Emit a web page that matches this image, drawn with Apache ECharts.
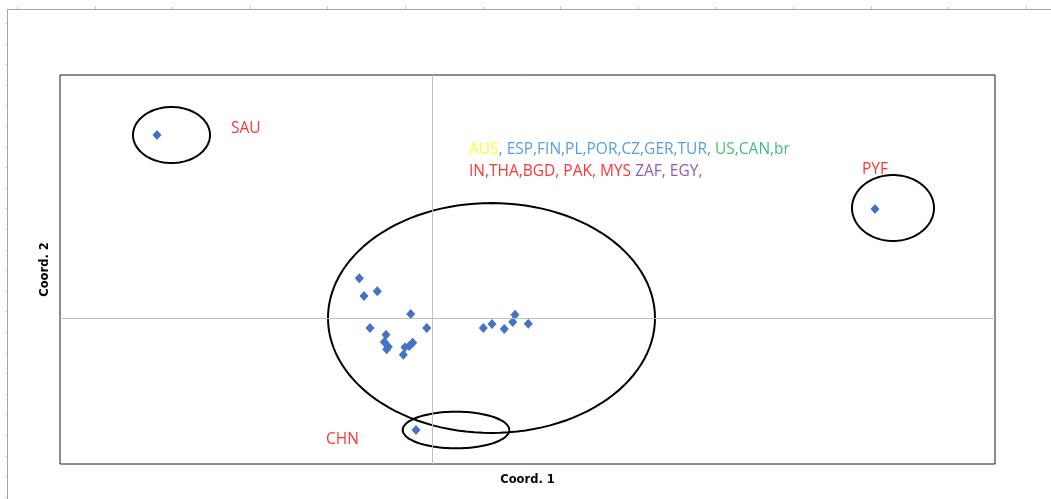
<!DOCTYPE html>
<html>
<head>
<meta charset="utf-8">
<script src="https://cdn.jsdelivr.net/npm/echarts@6/dist/echarts.min.js"></script>
<style>
html,body{margin:0;padding:0;background:#fff;}
#chart{width:1051px;height:499px;}
</style>
</head>
<body>
<div id="chart"></div>
<script>
// ---- data ----
const xAxisName = 'Coord. 1';
const yAxisName = 'Coord. 2';
const xRange = [-3.72, 5.63];
const yRange = [-1.46, 2.43];

// country points [coord1, coord2]
const outlierSAU = [[-2.75, 1.83]];
const outlierPYF = [[4.43, 1.09]];
const outlierCHN = [[-0.16, -1.12]];
const clusterPoints = [
  [-0.727, 0.397], [-0.68, 0.22], [-0.547, 0.267], [-0.213, 0.04],
  [-0.62, -0.10], [-0.053, -0.10], [-0.46, -0.167], [-0.477, -0.24],
  [-0.437, -0.287], [-0.453, -0.313], [-0.27, -0.293], [-0.193, -0.247],
  [-0.227, -0.28], [-0.287, -0.367],
  [0.513, -0.10], [0.60, -0.06], [0.723, -0.11], [0.807, -0.04],
  [0.83, 0.033], [0.963, -0.057]
];

// group ellipses [centerX, centerY, radiusX, radiusY]
const ellipses = [
  [-2.605, 1.83, 0.385, 0.28],
  [4.61, 1.10, 0.41, 0.33],
  [0.595, 0.0, 1.635, 1.15],
  [0.24, -1.12, 0.533, 0.183]
];

// text annotations [x, y, label key]
const annotations = [
  [-2.01, 1.89, 'SAU'],
  [4.30, 1.48, 'PYF'],
  [-1.06, -1.22, 'CHN'],
  [0.37, 1.68, 'line1'],
  [0.37, 1.46, 'line2']
];

const annotationText = {
  SAU: '{r|SAU}',
  PYF: '{r|PYF}',
  CHN: '{r|CHN}',
  line1: '{y|AUS}{b|, ESP,FIN,PL,POR,CZ,GER,TUR, }{g|US,}{t|CAN,br}',
  line2: '{r|IN,THA,BGD, PAK, MYS }{p|ZAF, EGY,}'
};

// ---- chart ----
const chart = echarts.init(document.getElementById('chart'));
const FONT = 'Open Sans';
const FS = 15.5;
const rich = {
  r: {color: '#FF0000', fontFamily: FONT, fontSize: FS},
  y: {color: '#FFFF00', fontFamily: FONT, fontSize: FS},
  b: {color: '#2A88D8', fontFamily: FONT, fontSize: FS},
  g: {color: '#22B04A', fontFamily: FONT, fontSize: FS},
  t: {color: '#14A86A', fontFamily: FONT, fontSize: FS},
  p: {color: '#7030A0', fontFamily: FONT, fontSize: FS}
};

const allPoints = outlierSAU.concat(outlierPYF, outlierCHN, clusterPoints);

// outer sheet frame decorations
const frame = [
  {type: 'line', shape: {x1: 7, y1: 9.5, x2: 1051, y2: 9.5}, style: {stroke: '#a6a6a6', lineWidth: 1}, silent: true},
  {type: 'line', shape: {x1: 7.5, y1: 9, x2: 7.5, y2: 499}, style: {stroke: '#a6a6a6', lineWidth: 1}, silent: true}
];
for (let x = 17; x < 1051; x += 77.6) {
  frame.push({type: 'line', shape: {x1: Math.round(x) + 0.5, y1: 6, x2: Math.round(x) + 0.5, y2: 9}, style: {stroke: '#d0d0d0', lineWidth: 1}, silent: true});
}
for (let y = 23; y < 499; y += 20.6) {
  frame.push({type: 'line', shape: {x1: 5, y1: Math.round(y) + 0.5, x2: 7, y2: Math.round(y) + 0.5}, style: {stroke: '#d8d8e4', lineWidth: 1}, silent: true});
}

chart.setOption({
  animation: false,
  backgroundColor: '#fff',
  graphic: frame,
  grid: {left: 60, right: 56, top: 75, bottom: 35, show: true, borderColor: '#1a1a1a', borderWidth: 1, backgroundColor: 'transparent'},
  xAxis: {
    type: 'value', min: xRange[0], max: xRange[1],
    name: xAxisName, nameLocation: 'middle', nameGap: 10,
    nameTextStyle: {fontFamily: 'DejaVu Sans', fontWeight: 'bold', fontSize: 11.5, color: '#000'},
    axisLine: {show: false, onZero: false}, axisTick: {show: false}, axisLabel: {show: false}, splitLine: {show: false}
  },
  yAxis: {
    type: 'value', min: yRange[0], max: yRange[1],
    name: yAxisName, nameLocation: 'middle', nameGap: 9,
    nameTextStyle: {fontFamily: 'DejaVu Sans', fontWeight: 'bold', fontSize: 11.5, color: '#000'},
    axisLine: {show: false, onZero: false}, axisTick: {show: false}, axisLabel: {show: false}, splitLine: {show: false}
  },
  series: [
    {
      type: 'custom',
      silent: true,
      z: 3,
      data: ellipses,
      renderItem: function (params, api) {
        const c = api.coord([api.value(0), api.value(1)]);
        const s = api.size([api.value(2), api.value(3)]);
        const pts = [];
        for (let i = 0; i < 120; i++) {
          const a = i / 120 * Math.PI * 2;
          pts.push([c[0] + s[0] * Math.cos(a), c[1] + s[1] * Math.sin(a)]);
        }
        return {type: 'polygon', shape: {points: pts}, style: {fill: null, stroke: '#000', lineWidth: 2}};
      }
    },
    {
      type: 'scatter',
      z: 4,
      symbol: 'diamond',
      symbolSize: [9, 10],
      itemStyle: {color: '#4472C4', opacity: 1},
      data: allPoints,
      markLine: {
        silent: true,
        symbol: 'none',
        label: {show: false},
        lineStyle: {color: '#bfbfbf', width: 1, type: 'solid'},
        data: [{xAxis: 0}, {yAxis: 0}]
      }
    },
    {
      type: 'scatter',
      z: 5,
      symbolSize: 0,
      silent: true,
      data: annotations.map(a => ({value: [a[0], a[1]], key: a[2]})),
      label: {
        show: true,
        position: 'inside',
        align: 'left',
        verticalAlign: 'middle',
        formatter: function (p) { return annotationText[p.data.key]; },
        rich: rich
      }
    }
  ]
});
</script>
</body>
</html>
